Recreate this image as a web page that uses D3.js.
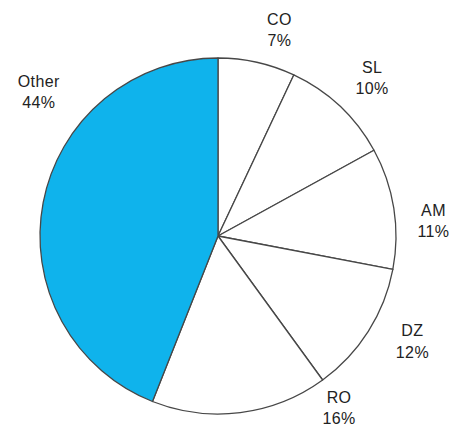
<!DOCTYPE html>
<html>
<head>
<meta charset="utf-8">
<script src="https://cdn.jsdelivr.net/npm/d3@7"></script>
<style>
  html, body { margin: 0; padding: 0; background: #fff; }
  svg { display: block; }
</style>
</head>
<body>
<div id="chart"></div>
<script>
// Share by region, clockwise from 12 o'clock
const names = ['CO', 'SL', 'AM', 'DZ', 'RO', 'Other'];
const shares = [7, 10, 11, 12, 16, 44];
const highlighted = ['Other'];

// Label layout: angle nudge (deg) from the slice middle and radius from centre
const labelNudge = [4, 1, 5, -4, -28, 28];
const labelRadius = [215, 221, 216, 221, 210, 230];

const width = 453, height = 432;
const cx = 218, cy = 236, radius = 178;

const svg = d3.select('#chart')
    .append('svg')
    .attr('width', width)
    .attr('height', height);

const g = svg.append('g')
    .attr('transform', `translate(${cx},${cy})`);

const data = names.map((n, i) => ({ name: n, value: shares[i], idx: i }));

const pie = d3.pie()
    .value(d => d.value)
    .sort(null);

const arc = d3.arc()
    .innerRadius(0)
    .outerRadius(radius);

const arcs = pie(data);

// Slices
g.selectAll('path.slice')
    .data(arcs)
    .enter()
    .append('path')
    .attr('class', 'slice')
    .attr('d', arc)
    .attr('fill', d => highlighted.includes(d.data.name) ? '#0fb3ec' : '#ffffff')
    .attr('stroke', '#474747')
    .attr('stroke-width', 1.3)
    .attr('stroke-linejoin', 'round');

// Labels: name on top, percentage below
const labels = g.selectAll('g.label')
    .data(arcs)
    .enter()
    .append('g')
    .attr('class', 'label')
    .attr('transform', d => {
        const mid = (d.startAngle + d.endAngle) / 2 + labelNudge[d.data.idx] * Math.PI / 180;
        const [x, y] = d3.pointRadial(mid, labelRadius[d.data.idx]);
        return `translate(${x},${y})`;
    })
    .style('font-family', '"Liberation Sans", Arial, Helvetica, sans-serif')
    .style('font-size', '16px')
    .style('letter-spacing', '0.4px')
    .style('fill', '#222');

labels.append('text')
    .attr('text-anchor', 'middle')
    .attr('y', -5)
    .text(d => d.data.name);

labels.append('text')
    .attr('text-anchor', 'middle')
    .attr('y', 16.5)
    .text(d => d.data.value + '%');
</script>
</body>
</html>
